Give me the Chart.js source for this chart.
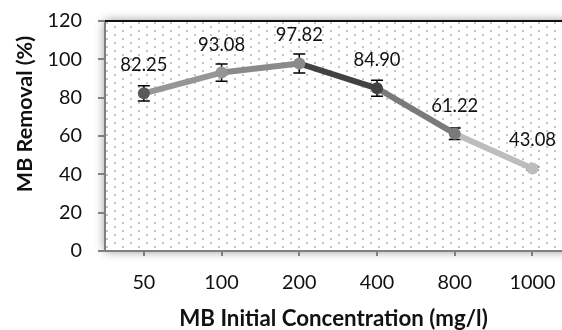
<!DOCTYPE html>
<html>
<head>
<meta charset="utf-8">
<script src="https://cdn.jsdelivr.net/npm/chart.js@4/dist/chart.umd.min.js"></script>
<style>
  html, body { margin: 0; padding: 0; background: #fff; overflow: hidden; }
  #wrap { width: 562px; height: 330px; position: relative; }
</style>
</head>
<body>
<div id="wrap"><canvas id="chart"></canvas></div>
<script>
// chart values
const concLabels = ['50', '100', '200', '400', '800', '1000'];
const removal = [82.25, 93.08, 97.82, 84.90, 61.22, 43.08];
const removalErr = [4.0, 4.5, 4.9, 4.2, 3.0, 1.0];
const yTicks = [0, 20, 40, 60, 80, 100, 120];

const xTitle = 'MB Initial Concentration (mg/l)';
const yTitle = 'MB Removal (%)';

// grey shades per point (segment takes the colour of its end point)
const pointColors = ['#595959', '#969696', '#8a8a8a', '#424242', '#7a7a7a', '#bdbdbd'];

const fontFamily = 'Lato, "Open Sans", sans-serif';

// pick a font size so the text is as wide as in the original
const fitSize = (text, weight, width) => {
    const c = document.createElement('canvas').getContext('2d');
    c.font = `${weight} 100px ${fontFamily}`;
    return Math.round(1000 * width / c.measureText(text).width) / 10;
};
const tickSize = fitSize('1000', 'normal', 46);
const labelSize = fitSize('82.25', 'normal', 47);
const xTitleSize = fitSize(xTitle, 'bold', 308);
const yTitleSize = fitSize(yTitle, 'bold', 156);

// dotted plot background
const makePattern = (ctx) => {
    const c = document.createElement('canvas');
    c.width = 16;
    c.height = 8;
    const p = c.getContext('2d');
    p.fillStyle = '#fff';
    p.fillRect(0, 0, 16, 8);
    p.fillStyle = '#c6c6c6';
    p.fillRect(2, 2, 2, 2);
    p.fillRect(10, 6, 2, 2);
    return ctx.createPattern(c, 'repeat');
};

const plotBackground = {
    id: 'plotBackground',
    beforeDraw(chart) {
        const { ctx, chartArea: a } = chart;
        ctx.save();
        ctx.shadowColor = 'rgba(0,0,0,0.45)';
        ctx.shadowBlur = 10;
        ctx.fillStyle = '#fff';
        ctx.fillRect(a.left, a.top, a.right - a.left + 20, a.bottom - a.top);
        ctx.restore();
        ctx.save();
        ctx.fillStyle = makePattern(ctx);
        ctx.fillRect(a.left, a.top, a.right - a.left, a.bottom - a.top);
        ctx.restore();
    },
    beforeDatasetsDraw(chart) {
        const { ctx, chartArea: a } = chart;
        const y = chart.scales.y;
        const x = chart.scales.x;
        ctx.save();
        // left and bottom frame
        ctx.strokeStyle = '#808080';
        ctx.lineWidth = 2;
        ctx.beginPath();
        ctx.moveTo(a.left, a.top);
        ctx.lineTo(a.left, a.bottom);
        ctx.lineTo(a.right, a.bottom);
        // short y tick marks
        yTicks.forEach(v => {
            const py = Math.round(y.getPixelForValue(v));
            ctx.moveTo(a.left - 7, py);
            ctx.lineTo(a.left, py);
        });
        ctx.stroke();
        // top frame
        ctx.strokeStyle = '#111';
        ctx.beginPath();
        ctx.moveTo(a.left, a.top);
        ctx.lineTo(a.right, a.top);
        ctx.stroke();

        // y tick labels
        ctx.fillStyle = '#111';
        ctx.font = `${tickSize}px ${fontFamily}`;
        ctx.textAlign = 'right';
        ctx.textBaseline = 'middle';
        yTicks.forEach(v => {
            ctx.fillText(String(v), a.left - 23, y.getPixelForValue(v));
        });

        // y axis title
        ctx.font = `bold ${yTitleSize}px ${fontFamily}`;
        ctx.textAlign = 'center';
        ctx.translate(25, 114);
        ctx.rotate(-Math.PI / 2);
        ctx.fillText(yTitle, 0, 0);
        ctx.setTransform(1, 0, 0, 1, 0, 0);

        // error bars
        ctx.strokeStyle = '#000';
        ctx.lineWidth = 1.5;
        removal.forEach((v, i) => {
            const px = x.getPixelForValue(i);
            const top = y.getPixelForValue(v + removalErr[i]);
            const bot = y.getPixelForValue(v - removalErr[i]);
            ctx.beginPath();
            ctx.moveTo(px, top);
            ctx.lineTo(px, bot);
            ctx.moveTo(px - 6, top);
            ctx.lineTo(px + 6, top);
            ctx.moveTo(px - 6, bot);
            ctx.lineTo(px + 6, bot);
            ctx.stroke();
        });
        ctx.restore();
    },
    afterDatasetsDraw(chart) {
        const { ctx } = chart;
        const meta = chart.getDatasetMeta(0);
        ctx.save();
        ctx.font = `${labelSize}px ${fontFamily}`;
        ctx.fillStyle = '#111';
        ctx.textAlign = 'center';
        ctx.textBaseline = 'middle';
        meta.data.forEach((pt, i) => {
            ctx.fillText(removal[i].toFixed(2), pt.x, pt.y - 28);
        });
        ctx.restore();
    }
};

const noPadding = s => {
    s.paddingTop = 0;
    s.paddingBottom = 0;
    s.paddingLeft = 0;
    s.paddingRight = 0;
};

new Chart(document.getElementById('chart'), {
    type: 'line',
    data: {
        datasets: [{
            data: removal.map((v, i) => ({ x: i, y: v })),
            borderWidth: 6,
            pointRadius: 6,
            pointHoverRadius: 6,
            pointBackgroundColor: pointColors,
            pointBorderColor: pointColors,
            pointBorderWidth: 0,
            segment: {
                borderColor: ctx => pointColors[ctx.p1DataIndex]
            },
            tension: 0
        }]
    },
    options: {
        responsive: true,
        maintainAspectRatio: false,
        animation: false,
        layout: { autoPadding: false, padding: { top: 21, right: 0, left: 0, bottom: 0 } },
        plugins: {
            legend: { display: false },
            tooltip: { enabled: false }
        },
        scales: {
            x: {
                type: 'linear',
                min: -0.5,
                max: 5.38,
                afterBuildTicks: s => { s.ticks = concLabels.map((_, i) => ({ value: i })); },
                afterFit: s => { s.height = 79; noPadding(s); },
                border: { display: false },
                grid: { drawOnChartArea: false, drawTicks: true, tickLength: 5, color: '#808080', lineWidth: 2 },
                ticks: {
                    autoSkip: false,
                    maxRotation: 0,
                    padding: 15,
                    color: '#111',
                    font: { family: fontFamily, size: tickSize },
                    callback: v => concLabels[v]
                },
                title: {
                    display: true,
                    text: xTitle,
                    color: '#111',
                    font: { family: fontFamily, size: xTitleSize, weight: 'bold', lineHeight: 1 },
                    padding: { top: 0, bottom: 0 }
                }
            },
            y: {
                min: 0,
                max: 120,
                afterBuildTicks: s => { s.ticks = yTicks.map(v => ({ value: v })); },
                afterFit: s => { s.width = 105; noPadding(s); },
                border: { display: false },
                grid: { display: false },
                ticks: { display: false },
                title: { display: false }
            }
        }
    },
    plugins: [plotBackground]
});
</script>
</body>
</html>
